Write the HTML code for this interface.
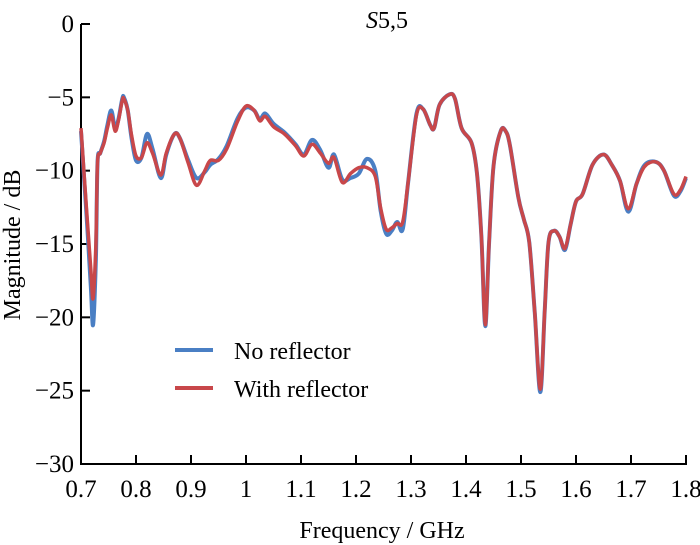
<!DOCTYPE html>
<html><head><meta charset="utf-8"><style>
body{margin:0;background:#fff}
svg{display:block}
text{font-family:"Liberation Serif","DejaVu Serif",serif}
</style></head><body>
<svg id="chart" width="700" height="545" viewBox="0 0 700 545">
<g id="axes"></g>
<g id="series"></g>
<text x="366" y="28" font-size="24" font-family="Liberation Serif, serif"><tspan font-style="italic">S</tspan>5,5</text>
<text x="382" y="538" font-size="24" text-anchor="middle" font-family="Liberation Serif, serif">Frequency / GHz</text>
<text transform="translate(20,245) rotate(-90)" font-size="24" text-anchor="middle" font-family="Liberation Serif, serif">Magnitude / dB</text>
<g>
<line x1="175" y1="350" x2="213" y2="350" stroke="#4a7fc4" stroke-width="4"/>
<text x="234" y="359" font-size="24" font-family="Liberation Serif, serif">No reflector</text>
<line x1="175" y1="388" x2="213" y2="388" stroke="#c8474a" stroke-width="4"/>
<text x="234" y="397" font-size="24" font-family="Liberation Serif, serif">With reflector</text>
</g>
</svg>
<script>
const freq=[0.700,0.710,0.718,0.722,0.727,0.730,0.735,0.742,0.748,0.755,0.762,0.768,0.775,0.778,0.785,0.792,0.800,0.810,0.820,0.830,0.845,0.855,0.870,0.880,0.895,0.910,0.925,0.935,0.950,0.965,0.985,1.000,1.015,1.025,1.035,1.050,1.070,1.090,1.105,1.120,1.135,1.150,1.160,1.175,1.190,1.205,1.220,1.235,1.245,1.255,1.265,1.275,1.285,1.295,1.310,1.322,1.335,1.342,1.352,1.370,1.380,1.392,1.410,1.420,1.428,1.435,1.442,1.450,1.463,1.472,1.480,1.495,1.505,1.515,1.525,1.535,1.543,1.550,1.560,1.570,1.580,1.590,1.600,1.612,1.630,1.650,1.665,1.680,1.695,1.710,1.725,1.745,1.760,1.778,1.790,1.800];
const withReflector=[-7.1,-12.6,-16.8,-18.7,-15,-9.5,-8.8,-8.1,-7.1,-6.2,-7.3,-6.6,-5.2,-5.1,-5.9,-7.6,-9.0,-9.1,-8.1,-8.8,-10.3,-8.8,-7.5,-7.8,-9.5,-11,-10,-9.3,-9.3,-8.5,-6.6,-5.6,-5.9,-6.6,-6.3,-7,-7.5,-8.3,-9,-8.2,-8.8,-9.5,-9.1,-10.8,-10.2,-9.8,-9.8,-10.4,-12.6,-14,-13.9,-13.6,-13.5,-10.7,-6.2,-5.8,-6.9,-7.1,-5.5,-4.8,-5.1,-7.1,-8.1,-10.2,-14.5,-20.5,-14.9,-9.7,-7.3,-7.3,-8.3,-11.8,-13.3,-14.9,-19.7,-24.9,-19.7,-14.9,-14.1,-14.5,-15.3,-13.7,-12.1,-11.6,-9.6,-8.9,-9.6,-10.7,-12.6,-10.9,-9.7,-9.4,-10,-11.6,-11.3,-10.4];
const noReflector=[-7.3,-13,-18,-20.5,-16,-9.5,-8.8,-8.0,-6.9,-5.9,-7.1,-6.5,-5.1,-5.0,-5.9,-7.8,-9.3,-9.1,-7.5,-8.5,-10.5,-8.9,-7.5,-7.8,-9.3,-10.5,-10.1,-9.6,-9.2,-8.3,-6.4,-5.7,-5.9,-6.5,-6.1,-6.8,-7.4,-8.2,-8.9,-7.9,-8.6,-9.8,-8.9,-10.6,-10.5,-10.2,-9.2,-10.0,-12.8,-14.3,-14.1,-13.5,-14.0,-10.7,-6.1,-5.8,-6.9,-7.1,-5.5,-4.8,-5.1,-7.1,-8.1,-10.2,-14.5,-20.6,-14.9,-9.7,-7.3,-7.3,-8.3,-11.8,-13.3,-14.9,-19.7,-25.1,-19.7,-14.9,-14.1,-14.5,-15.4,-13.7,-12.1,-11.6,-9.6,-8.9,-9.6,-10.7,-12.8,-10.9,-9.6,-9.4,-10,-11.7,-11.4,-10.5];
const xTicks=[0.7,0.8,0.9,1,1.1,1.2,1.3,1.4,1.5,1.6,1.7,1.8];
const xTickLabels=["0.7","0.8","0.9","1","1.1","1.2","1.3","1.4","1.5","1.6","1.7","1.8"];
const yTicks=[0,-5,-10,-15,-20,-25,-30];
const yTickLabels=["0","\u22125","\u221210","\u221215","\u221220","\u221225","\u221230"];

const X0=81,X1=686,Y0=24,Y1=464;
const xs=f=>X0+(f-0.7)/(1.1)*(X1-X0);
const ys=v=>Y0+(0-v)/30*(Y1-Y0);
const NS="http://www.w3.org/2000/svg";
const axes=document.getElementById('axes');
function mk(tag,attrs,parent){const e=document.createElementNS(NS,tag);for(const k in attrs)e.setAttribute(k,attrs[k]);parent.appendChild(e);return e;}
const yl=mk('line',{x1:X0,y1:Y0,x2:X0,y2:Y1,stroke:'#000','stroke-width':2},axes);


const xl=mk('line',{x1:X0-1,y1:Y1,x2:X1+1,y2:Y1,stroke:'#000','stroke-width':2},axes);


xTicks.forEach((t,i)=>{
  const x=xs(t);
  if(i>0){const tk=mk('line',{x1:x,y1:Y1,x2:x,y2:Y1-9,stroke:'#000','stroke-width':2},axes);
  
  }
  const tx=mk('text',{x:x,y:Y1+33,'font-size':25,'text-anchor':'middle','font-family':'Liberation Serif, serif'},axes);
  tx.textContent=xTickLabels[i];
  
  
});
yTicks.forEach((t,i)=>{
  const y=ys(t);
  if(i<yTicks.length-1){const tk=mk('line',{x1:X0,y1:y,x2:X0+9,y2:y,stroke:'#000','stroke-width':2},axes);
  
  }
  const tx=mk('text',{x:X0-7,y:y+8,'font-size':25,'text-anchor':'end','font-family':'Liberation Serif, serif'},axes);
  tx.textContent=yTickLabels[i];
  
  
});
function smoothPath(vals){
  const p=freq.map((f,i)=>[xs(f),ys(vals[i])]);
  let d='M'+p[0][0].toFixed(1)+','+p[0][1].toFixed(1);
  for(let i=0;i<p.length-1;i++){
    const a=p[i-1]||p[i],b=p[i],c=p[i+1],e=p[i+2]||c;
    const c1=[b[0]+(c[0]-a[0])/6,b[1]+(c[1]-a[1])/6];
    const c2=[c[0]-(e[0]-b[0])/6,c[1]-(e[1]-b[1])/6];
    d+=`C${c1[0].toFixed(1)},${c1[1].toFixed(1)} ${c2[0].toFixed(1)},${c2[1].toFixed(1)} ${c[0].toFixed(1)},${c[1].toFixed(1)}`;
  }
  return d;
}
const sg=document.getElementById('series');
const pb=mk('path',{d:smoothPath(noReflector),fill:'none',stroke:'#4a7fc4','stroke-width':4,'stroke-linejoin':'round'},sg);


const pr=mk('path',{d:smoothPath(withReflector),fill:'none',stroke:'#c8474a','stroke-width':3.5,'stroke-linejoin':'round'},sg);


</script>
</body></html>
